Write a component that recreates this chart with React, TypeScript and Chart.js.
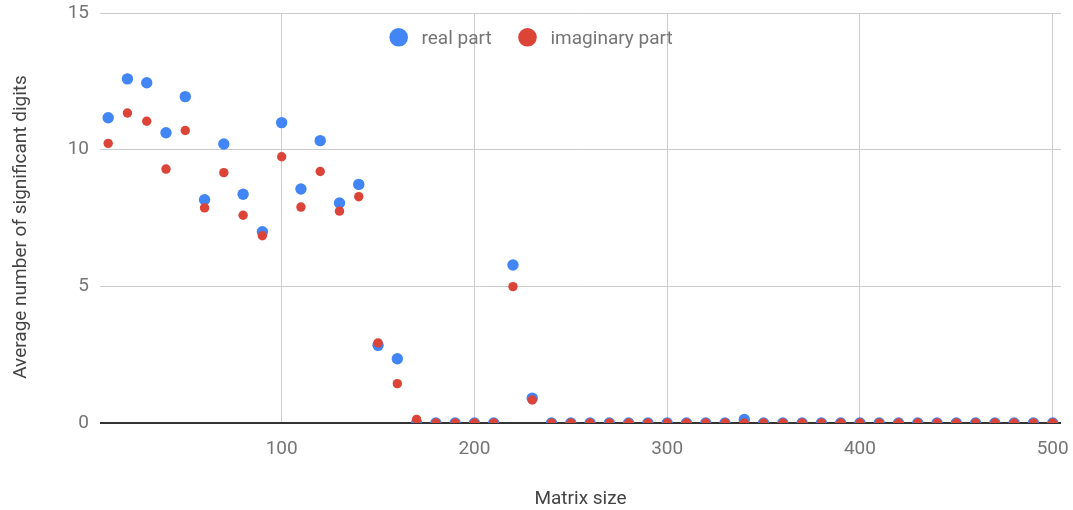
import { useEffect, useRef } from "react";
import { Chart, registerables } from "chart.js";

Chart.register(...registerables);

const matrixSizes = [
  10, 20, 30, 40, 50, 60, 70, 80, 90, 100,
  110, 120, 130, 140, 150, 160, 170, 180, 190, 200,
  210, 220, 230, 240, 250, 260, 270, 280, 290, 300,
  310, 320, 330, 340, 350, 360, 370, 380, 390, 400,
  410, 420, 430, 440, 450, 460, 470, 480, 490, 500,
];

const realPart = [
  11.17, 12.59, 12.45, 10.62, 11.94, 8.17, 10.21, 8.37, 7.0, 10.99,
  8.56, 10.33, 8.05, 8.73, 2.84, 2.35, 0, 0, 0, 0,
  0, 5.78, 0.91, 0, 0, 0, 0, 0, 0, 0,
  0, 0, 0, 0.13, 0, 0, 0, 0, 0, 0,
  0, 0, 0, 0, 0, 0, 0, 0, 0, 0,
];

const imaginaryPart = [
  10.23, 11.34, 11.04, 9.29, 10.7, 7.87, 9.16, 7.6, 6.85, 9.74,
  7.9, 9.2, 7.75, 8.28, 2.93, 1.44, 0.13, 0, 0, 0,
  0, 4.99, 0.84, 0, 0, 0, 0, 0, 0, 0,
  0, 0, 0, 0, 0, 0, 0, 0, 0, 0,
  0, 0, 0, 0, 0, 0, 0, 0, 0, 0,
];

const xTickValues = [100, 200, 300, 400, 500];
const yTickValues = [0, 5, 10, 15];

const seriesNames = ["real part", "imaginary part"];
const seriesColors = ["#4285F4", "#DB4437"];
const xTitle = "Matrix size";
const yTitle = "Average number of significant digits";

const FONT = "Roboto, 'Noto Sans', sans-serif";

export default function App() {
  const canvasRef = useRef<HTMLCanvasElement | null>(null);

  useEffect(() => {
    document.body.style.margin = "0";
    const canvas = canvasRef.current;
    if (!canvas) return;

    const overlay = {
      id: "overlay",
      afterDraw(chart: any) {
        const ctx = chart.ctx as CanvasRenderingContext2D;
        const area = chart.chartArea;
        ctx.save();
        ctx.font = `19px ${FONT}`;
        ctx.textBaseline = "alphabetic";
        ctx.textAlign = "left";
        const legendItems = [
          { cx: 398.7, tx: 421.5 },
          { cx: 527.5, tx: 550.5 },
        ];
        legendItems.forEach((it, i) => {
          ctx.fillStyle = seriesColors[i];
          ctx.beginPath();
          ctx.arc(it.cx, 37.3, 9.3, 0, Math.PI * 2);
          ctx.fill();
          ctx.fillStyle = "#757575";
          ctx.fillText(seriesNames[i], it.tx, 44);
        });
        ctx.fillStyle = "#444444";
        ctx.textAlign = "center";
        ctx.fillText(xTitle, (area.left + area.right) / 2, 504);
        ctx.translate(26, 227);
        ctx.rotate(-Math.PI / 2);
        ctx.fillText(yTitle, 0, 0);
        ctx.restore();
      },
    };

    const chart = new Chart(canvas, {
      type: "scatter",
      data: {
        datasets: [
          {
            label: seriesNames[0],
            data: matrixSizes.map((x, i) => ({ x, y: realPart[i] })),
            backgroundColor: seriesColors[0],
            borderColor: seriesColors[0],
            borderWidth: 0,
            pointRadius: 5.7,
            pointHoverRadius: 5.7,
            order: 2,
            clip: 0,
          },
          {
            label: seriesNames[1],
            data: matrixSizes.map((x, i) => ({ x, y: imaginaryPart[i] })),
            backgroundColor: seriesColors[1],
            borderColor: seriesColors[1],
            borderWidth: 0,
            pointRadius: 4.7,
            pointHoverRadius: 4.7,
            order: 1,
            clip: 0,
          },
        ],
      },
      options: {
        animation: false,
        responsive: false,
        maintainAspectRatio: false,
        events: [],
        layout: { padding: { top: 13, right: 12, left: 0, bottom: 0 } },
        plugins: {
          legend: { display: false },
          tooltip: { enabled: false },
          title: { display: false },
        },
        scales: {
          x: {
            type: "linear",
            min: 5.76,
            max: 504.3,
            afterBuildTicks: (s: any) => {
              s.ticks = xTickValues.map((v) => ({ value: v }));
            },
            afterFit: (s: any) => {
              s.height = 87;
              s.paddingLeft = 0;
              s.paddingRight = 0;
              s.paddingTop = 0;
              s.paddingBottom = 0;
            },
            border: { display: false },
            grid: { color: "#cccccc", lineWidth: 1, drawTicks: false },
            ticks: {
              color: "#757575",
              font: { family: FONT, size: 19 },
              padding: 15,
              maxRotation: 0,
              autoSkip: false,
            },
          },
          y: {
            type: "linear",
            min: 0,
            max: 15,
            afterBuildTicks: (s: any) => {
              s.ticks = yTickValues.map((v) => ({ value: v }));
            },
            afterFit: (s: any) => {
              s.width = 100;
              s.paddingLeft = 0;
              s.paddingRight = 0;
              s.paddingTop = 0;
              s.paddingBottom = 0;
            },
            border: { display: false },
            grid: {
              color: (c: any) => (c.tick && c.tick.value === 0 ? "#333333" : "#cccccc"),
              lineWidth: (c: any) => (c.tick && c.tick.value === 0 ? 2 : 1),
              drawTicks: false,
            },
            ticks: {
              color: "#757575",
              font: { family: FONT, size: 19 },
              padding: 11,
            },
          },
        },
      },
      plugins: [overlay],
    });

    return () => {
      chart.destroy();
    };
  }, []);

  return <canvas ref={canvasRef} width={1073} height={510} style={{ display: "block" }} />;
}
